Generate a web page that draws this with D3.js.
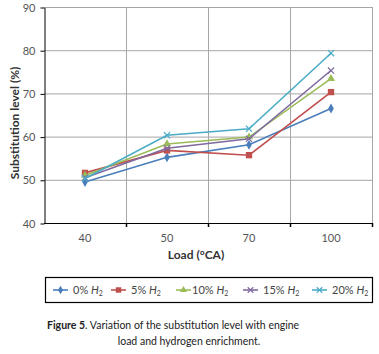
<!DOCTYPE html>
<html>
<head>
<meta charset="utf-8">
<script src="https://cdn.jsdelivr.net/npm/d3@7"></script>
<style>
  body { margin: 0; background: #fff; }
  text { font-family: Lato, "Open Sans", sans-serif; }
</style>
</head>
<body>
<div id="chart"></div>
<script>
// Data
var loads = ["40", "50", "70", "100"];
var seriesNames = ["0%", "5%", "10%", "15%", "20%"];
var h0 = [49.5, 55.2, 58.1, 66.5];
var h5 = [51.6, 56.8, 55.7, 70.3];
var h10 = [51.0, 58.3, 59.9, 73.4];
var h15 = [50.5, 57.3, 59.5, 75.3];
var h20 = [50.3, 60.3, 61.8, 79.3];
var yTicks = [40, 50, 60, 70, 80, 90];

var allSeries = [h0, h5, h10, h15, h20];
var colors = ["#4a7ebb", "#c0504d", "#9bbb59", "#7f6a9f", "#4bacc6"];
var shapes = [d3.symbolDiamond, d3.symbolSquare, d3.symbolTriangle, d3.symbolTimes, d3.symbolTimes];

var w = 379, h = 354;
var margin = {left: 44, right: 7, top: 7, bottom: 131};

var svg = d3.select("#chart").append("svg")
    .attr("width", w)
    .attr("height", h);

var x = d3.scaleBand()
    .domain(loads)
    .range([margin.left, w - margin.right]);

var y = d3.scaleLinear()
    .domain([40, 90])
    .range([h - margin.bottom, margin.top]);

// horizontal gridlines
svg.selectAll("line.hgrid")
    .data(yTicks.slice(1))
    .enter().append("line")
    .attr("x1", margin.left).attr("x2", w - margin.right)
    .attr("y1", function(d) { return y(d) + 0.5; })
    .attr("y2", function(d) { return y(d) + 0.5; })
    .attr("stroke", "#a6a6a6");

// vertical gridlines at category boundaries
var bounds = loads.map(function(d) { return x(d) + x.bandwidth(); });
svg.selectAll("line.vgrid")
    .data(bounds)
    .enter().append("line")
    .attr("x1", function(d) { return Math.round(d) + 0.5; })
    .attr("x2", function(d) { return Math.round(d) + 0.5; })
    .attr("y1", margin.top).attr("y2", y(40))
    .attr("stroke", "#a6a6a6");

// y axis
var yAxis = svg.append("g")
    .attr("transform", "translate(" + (margin.left + 0.5) + ",0.5)")
    .call(d3.axisLeft(y).tickValues(yTicks).tickSize(4).tickSizeOuter(0).tickPadding(5));
yAxis.select(".domain").attr("stroke", "#000");
yAxis.selectAll("text").attr("fill", "#555").attr("font-size", "11px");

// x axis (ticks at band boundaries)
svg.append("line")
    .attr("x1", margin.left).attr("x2", w - margin.right + 1)
    .attr("y1", y(40) + 0.5).attr("y2", y(40) + 0.5)
    .attr("stroke", "#000");
svg.selectAll("line.xtick")
    .data(bounds)
    .enter().append("line")
    .attr("x1", function(d) { return Math.round(d) + 0.5; })
    .attr("x2", function(d) { return Math.round(d) + 0.5; })
    .attr("y1", y(40)).attr("y2", y(40) + 4)
    .attr("stroke", "#000").attr("stroke-width", 1.5);
svg.selectAll("text.xlab")
    .data(loads)
    .enter().append("text")
    .attr("x", function(d) { return x(d) + x.bandwidth() / 2; })
    .attr("y", y(40) + 19)
    .attr("text-anchor", "middle")
    .attr("font-size", "11px")
    .attr("fill", "#555")
    .text(function(d) { return d; });

// axis titles
svg.append("text")
    .attr("x", 196).attr("y", 259)
    .attr("text-anchor", "middle")
    .attr("font-size", "12px").attr("font-weight", "bold")
    .attr("fill", "#333")
    .text("Load (°CA)");

svg.append("text")
    .attr("transform", "translate(19,123) rotate(-90)")
    .attr("text-anchor", "middle")
    .attr("font-size", "12px").attr("font-weight", "bold")
    .attr("fill", "#333")
    .text("Substitution level (%)");

// series lines and markers
var line = d3.line()
    .x(function(d, i) { return x(loads[i]) + x.bandwidth() / 2; })
    .y(function(d) { return y(d); });

function marker(sel, k, size) {
  sel.attr("d", d3.symbol().type(shapes[k]).size(size))
      .attr("fill", k >= 3 ? "none" : colors[k])
      .attr("stroke", k >= 3 ? colors[k] : "none")
      .attr("stroke-width", 1.2);
}

allSeries.forEach(function(s, k) {
  svg.append("path")
      .datum(s)
      .attr("fill", "none")
      .attr("stroke", colors[k])
      .attr("stroke-width", 1.6)
      .attr("d", line);

  svg.selectAll("path.m" + k)
      .data(s)
      .enter().append("path")
      .attr("transform", function(d, i) {
        return "translate(" + (x(loads[i]) + x.bandwidth() / 2) + "," + y(d) + ")";
      })
      .call(marker, k, k == 1 ? 40 : (k >= 3 ? 26 : 28));
});

// legend
svg.append("rect")
    .attr("x", 45.5).attr("y", 277.5)
    .attr("width", 327).attr("height", 25)
    .attr("fill", "none").attr("stroke", "#000").attr("stroke-width", 1.2);

var legX = [53, 111, 176, 243, 312];
seriesNames.forEach(function(name, k) {
  var g = svg.append("g").attr("transform", "translate(" + legX[k] + ",290)");
  g.append("line").attr("x1", 0).attr("x2", 15).attr("y1", 0).attr("y2", 0)
      .attr("stroke", colors[k]).attr("stroke-width", 1.6);
  g.append("path")
      .attr("transform", "translate(7.5,0)")
      .call(marker, k, k == 1 ? 30 : 22);
  var t = g.append("text").attr("x", k == 2 ? 16 : 20).attr("y", 4)
      .attr("font-size", "11px").attr("fill", "#444");
  t.append("tspan").text(name + " ");
  t.append("tspan").attr("font-style", "italic").text("H");
  t.append("tspan").attr("font-size", "7px").attr("dy", 2).text("2");
});

// caption
var cap = svg.append("text").attr("x", 47).attr("y", 329)
    .attr("font-size", "10.5px").attr("fill", "#222");
cap.append("tspan").attr("font-weight", "bold").text("Figure 5");
cap.append("tspan").text(". Variation of the substitution level with engine");
svg.append("text").attr("x", 189).attr("y", 345)
    .attr("text-anchor", "middle")
    .attr("font-size", "10.5px").attr("fill", "#222")
    .text("load and hydrogen enrichment.");
</script>
</body>
</html>
